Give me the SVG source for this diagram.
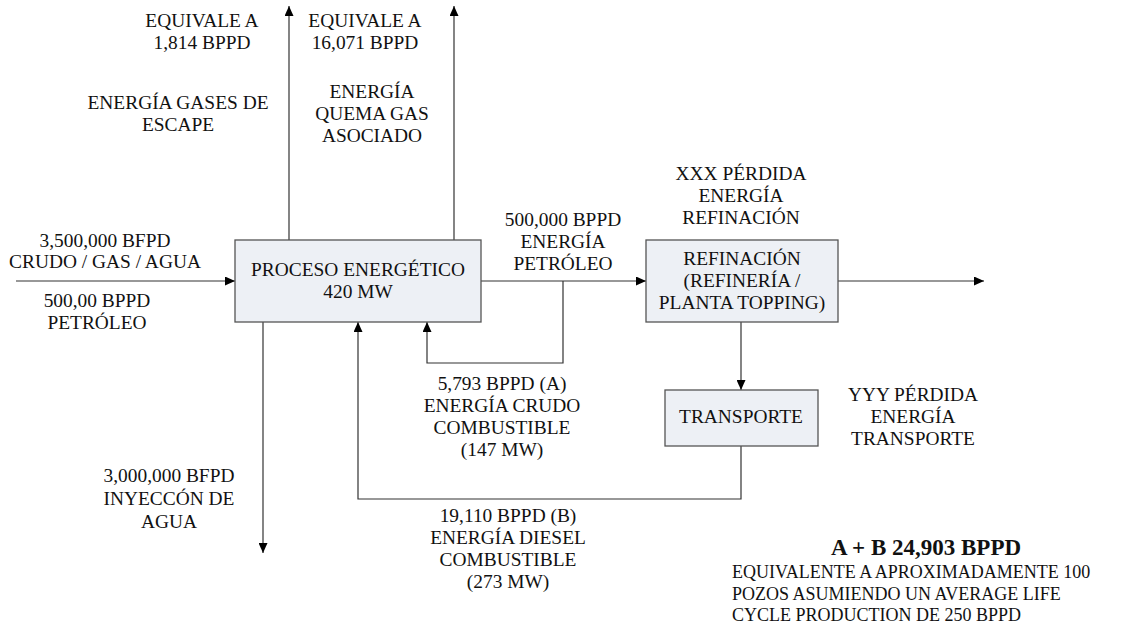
<svg xmlns="http://www.w3.org/2000/svg" width="1129" height="625" viewBox="0 0 1129 625">
<style>
text{font-family:"Liberation Serif","Times New Roman",serif;font-size:19.4px;fill:#111;text-anchor:middle}
.box{fill:#edf0f5;stroke:#555;stroke-width:1.3}
.ln{fill:none;stroke:#333;stroke-width:1.2}
.ar{marker-end:url(#ah)}
.b{font-weight:bold;font-size:23px}
.p{font-size:18px;text-anchor:start}
</style>
<defs>
<marker id="ah" markerUnits="userSpaceOnUse" markerWidth="11" markerHeight="9" refX="10" refY="4.5" orient="auto">
<path d="M0,0 L10,4.5 L0,9 z" fill="#000"/>
</marker>
</defs>
<g id="connectors">
<line class="ln ar" x1="16" y1="281" x2="235" y2="281"/>
<line class="ln ar" x1="289" y1="240" x2="289" y2="6"/>
<line class="ln ar" x1="454" y1="240" x2="454" y2="6"/>
<line class="ln ar" x1="481" y1="281" x2="646" y2="281"/>
<line class="ln ar" x1="838" y1="281" x2="984" y2="281"/>
<line class="ln ar" x1="741" y1="322" x2="741" y2="390"/>
<polyline class="ln ar" points="563,281 563,363 427,363 427,322"/>
<polyline class="ln ar" points="741,446 741,499 358,499 358,322"/>
<line class="ln ar" x1="263" y1="322" x2="263" y2="553"/>
</g>
<g id="proceso">
<rect class="box" x="235" y="240" width="246" height="82"/>
<text x="358" y="276">PROCESO ENERGÉTICO</text>
<text x="358" y="298">420 MW</text>
</g>
<g id="refinacion">
<rect class="box" x="646" y="240" width="192" height="82"/>
<text x="742" y="265">REFINACIÓN</text>
<text x="742" y="287">(REFINERÍA /</text>
<text x="742" y="309">PLANTA TOPPING)</text>
</g>
<g id="transporte">
<rect class="box" x="665" y="390" width="153" height="56"/>
<text x="741" y="423">TRANSPORTE</text>
</g>
<g id="labels">
<text x="202" y="27">EQUIVALE A</text>
<text x="202" y="49">1,814 BPPD</text>
<text x="365" y="27">EQUIVALE A</text>
<text x="365" y="49">16,071 BPPD</text>
<text x="178" y="109">ENERGÍA GASES DE</text>
<text x="178" y="131">ESCAPE</text>
<text x="372" y="98">ENERGÍA</text>
<text x="372" y="120">QUEMA GAS</text>
<text x="372" y="142">ASOCIADO</text>
<text x="105" y="247">3,500,000 BFPD</text>
<text x="105" y="268">CRUDO / GAS / AGUA</text>
<text x="97" y="307">500,00 BPPD</text>
<text x="97" y="329">PETRÓLEO</text>
<text x="563" y="226">500,000 BPPD</text>
<text x="563" y="248">ENERGÍA</text>
<text x="563" y="270">PETRÓLEO</text>
<text x="741" y="180">XXX PÉRDIDA</text>
<text x="741" y="202">ENERGÍA</text>
<text x="741" y="224">REFINACIÓN</text>
<text x="913" y="401">YYY PÉRDIDA</text>
<text x="913" y="423">ENERGÍA</text>
<text x="913" y="445">TRANSPORTE</text>
<text x="502" y="390">5,793 BPPD (A)</text>
<text x="502" y="412">ENERGÍA CRUDO</text>
<text x="502" y="434">COMBUSTIBLE</text>
<text x="502" y="456">(147 MW)</text>
<text x="169" y="482">3,000,000 BFPD</text>
<text x="169" y="505">INYECCÓN DE</text>
<text x="169" y="528">AGUA</text>
<text x="508" y="522">19,110 BPPD (B)</text>
<text x="508" y="544">ENERGÍA DIESEL</text>
<text x="508" y="566">COMBUSTIBLE</text>
<text x="508" y="588">(273 MW)</text>
<text class="b" x="926" y="555">A + B 24,903 BPPD</text>
<text class="p" x="732" y="578">EQUIVALENTE A APROXIMADAMENTE 100</text>
<text class="p" x="732" y="600">POZOS ASUMIENDO UN AVERAGE LIFE</text>
<text class="p" x="732" y="621">CYCLE PRODUCTION DE 250 BPPD</text>
</g>
</svg>
